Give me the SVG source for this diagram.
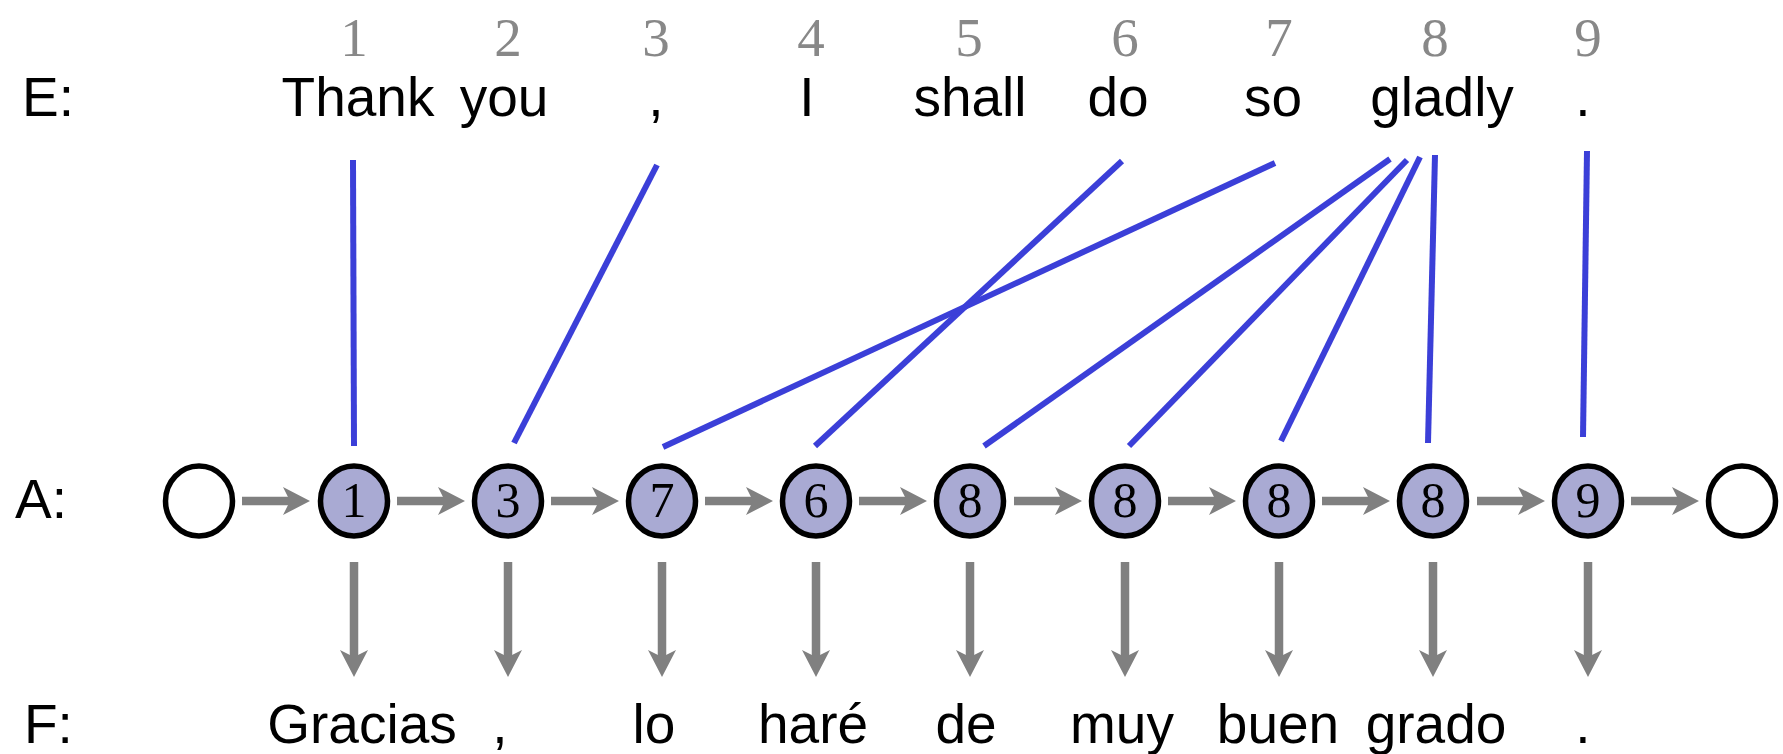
<svg xmlns="http://www.w3.org/2000/svg" width="1783" height="754" viewBox="0 0 1783 754">
<style>
.lbl{font-family:"Liberation Sans",Arial,sans-serif;font-size:55px;fill:#000}
.w{font-family:"Liberation Sans",Arial,sans-serif;font-size:55px;fill:#000;text-anchor:middle}
.num{font-family:"Liberation Serif","Times New Roman",serif;font-size:55px;fill:#888;text-anchor:middle}
.nd{font-family:"Liberation Serif","Times New Roman",serif;font-size:50px;fill:#000;text-anchor:middle}
.st{fill:#fff;stroke:#000;stroke-width:5.5}
.al{fill:#a9aad3;stroke:#000;stroke-width:5.5}
.blue{stroke:#3b3fd8;stroke-width:6;fill:none}
.arr{stroke:#808080;stroke-width:8.5;fill:none;marker-end:url(#ah)}
</style>
<defs>
<marker id="ah" markerUnits="userSpaceOnUse" viewBox="0 -15 28 30" markerWidth="28" markerHeight="30" refX="7" refY="0" orient="auto">
<path d="M0,-14 L27,0 L0,14 L7,0 Z" fill="#808080"/>
</marker>
</defs>
<g id="row-labels">
<text class="lbl" x="22" y="116">E:</text>
<text class="lbl" x="15" y="518">A:</text>
<text class="lbl" x="24" y="743">F:</text>
</g>
<g id="e-indices">
<text class="num" x="354" y="56">1</text>
<text class="num" x="508" y="56">2</text>
<text class="num" x="656" y="56">3</text>
<text class="num" x="811" y="56">4</text>
<text class="num" x="969" y="56">5</text>
<text class="num" x="1125" y="56">6</text>
<text class="num" x="1279" y="56">7</text>
<text class="num" x="1435" y="56">8</text>
<text class="num" x="1588" y="56">9</text>
</g>
<g id="e-words">
<text class="w" x="358" y="116">Thank</text>
<text class="w" x="504" y="116">you</text>
<text class="w" x="656" y="116">,</text>
<text class="w" x="807" y="116">I</text>
<text class="w" x="970" y="116">shall</text>
<text class="w" x="1118" y="116">do</text>
<text class="w" x="1273" y="116">so</text>
<text class="w" x="1442" y="116">gladly</text>
<text class="w" x="1583" y="116">.</text>
</g>
<g id="f-words">
<text class="w" x="362" y="743">Gracias</text>
<text class="w" x="500" y="743">,</text>
<text class="w" x="654" y="743">lo</text>
<text class="w" x="813" y="743">haré</text>
<text class="w" x="966" y="743">de</text>
<text class="w" x="1122" y="743">muy</text>
<text class="w" x="1278" y="743">buen</text>
<text class="w" x="1436" y="743">grado</text>
<text class="w" x="1583" y="743">.</text>
</g>
<g id="connectors">
<g id="alignment-links">
<line class="blue" x1="353" y1="160" x2="354" y2="446"/>
<line class="blue" x1="657" y1="165" x2="514" y2="443"/>
<line class="blue" x1="1122" y1="161" x2="815" y2="446"/>
<line class="blue" x1="1275" y1="163" x2="663" y2="447"/>
<line class="blue" x1="1390" y1="159" x2="984" y2="446"/>
<line class="blue" x1="1407" y1="160" x2="1129" y2="446"/>
<line class="blue" x1="1420" y1="157" x2="1281" y2="441"/>
<line class="blue" x1="1435" y1="155" x2="1428" y2="443"/>
<line class="blue" x1="1587" y1="151" x2="1583" y2="437"/>
</g>
<g id="chain-arrows">
<line class="arr" x1="242" y1="501" x2="290" y2="501"/>
<line class="arr" x1="397" y1="501" x2="445" y2="501"/>
<line class="arr" x1="551" y1="501" x2="599" y2="501"/>
<line class="arr" x1="705" y1="501" x2="753" y2="501"/>
<line class="arr" x1="859" y1="501" x2="907" y2="501"/>
<line class="arr" x1="1014" y1="501" x2="1062" y2="501"/>
<line class="arr" x1="1168" y1="501" x2="1216" y2="501"/>
<line class="arr" x1="1322" y1="501" x2="1370" y2="501"/>
<line class="arr" x1="1477" y1="501" x2="1525" y2="501"/>
<line class="arr" x1="1631" y1="501" x2="1679" y2="501"/>
</g>
<g id="emission-arrows">
<line class="arr" x1="354" y1="562" x2="354" y2="657"/>
<line class="arr" x1="508" y1="562" x2="508" y2="657"/>
<line class="arr" x1="662" y1="562" x2="662" y2="657"/>
<line class="arr" x1="816" y1="562" x2="816" y2="657"/>
<line class="arr" x1="970" y1="562" x2="970" y2="657"/>
<line class="arr" x1="1125" y1="562" x2="1125" y2="657"/>
<line class="arr" x1="1279" y1="562" x2="1279" y2="657"/>
<line class="arr" x1="1433" y1="562" x2="1433" y2="657"/>
<line class="arr" x1="1588" y1="562" x2="1588" y2="657"/>
</g>
</g>
<g id="node-start"><ellipse class="st" cx="199" cy="501" rx="33.5" ry="35"/></g>
<g id="node-a1"><ellipse class="al" cx="354" cy="501" rx="33.5" ry="35"/><text class="nd" x="354" y="517">1</text></g>
<g id="node-a2"><ellipse class="al" cx="508" cy="501" rx="33.5" ry="35"/><text class="nd" x="508" y="517">3</text></g>
<g id="node-a3"><ellipse class="al" cx="662" cy="501" rx="33.5" ry="35"/><text class="nd" x="662" y="517">7</text></g>
<g id="node-a4"><ellipse class="al" cx="816" cy="501" rx="33.5" ry="35"/><text class="nd" x="816" y="517">6</text></g>
<g id="node-a5"><ellipse class="al" cx="970" cy="501" rx="33.5" ry="35"/><text class="nd" x="970" y="517">8</text></g>
<g id="node-a6"><ellipse class="al" cx="1125" cy="501" rx="33.5" ry="35"/><text class="nd" x="1125" y="517">8</text></g>
<g id="node-a7"><ellipse class="al" cx="1279" cy="501" rx="33.5" ry="35"/><text class="nd" x="1279" y="517">8</text></g>
<g id="node-a8"><ellipse class="al" cx="1433" cy="501" rx="33.5" ry="35"/><text class="nd" x="1433" y="517">8</text></g>
<g id="node-a9"><ellipse class="al" cx="1588" cy="501" rx="33.5" ry="35"/><text class="nd" x="1588" y="517">9</text></g>
<g id="node-end"><ellipse class="st" cx="1742" cy="501" rx="33.5" ry="35"/></g>
</svg>
